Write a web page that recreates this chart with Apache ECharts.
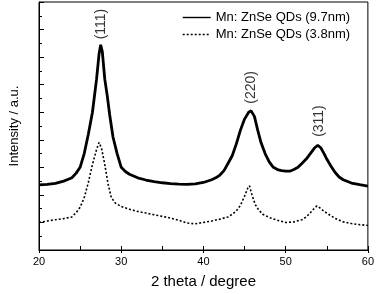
<!DOCTYPE html>
<html>
<head>
<meta charset="utf-8">
<script src="https://cdn.jsdelivr.net/npm/echarts@6/dist/echarts.min.js"></script>
<style>
html,body{margin:0;padding:0;background:#fff;}
#c{width:377px;height:294px;}
</style>
</head>
<body>
<div id="c"></div>
<script>
// 2theta (degree) and intensity (a.u.)
var thetaLarge = [20,21,22,23,23.5,24,24.5,25,25.5,26,26.5,27,27.3,27.5,27.7,28,28.3,28.6,29,29.5,30,30.5,31,32,33,34,35,36,37,38,39,40,41,41.5,42,42.5,43,43.5,44,44.5,45,45.5,45.8,46.2,46.6,47,47.5,48,48.5,49,49.5,50,50.5,51,51.5,52,52.5,53,53.5,53.9,54.3,54.7,55,55.5,56,56.5,57,58,59,60];
var intensityLarge = [2.36,2.38,2.42,2.5,2.56,2.62,2.78,3.0,3.5,4.2,5.0,6.2,7.1,7.45,7.2,6.2,5.6,4.9,4.1,3.5,3.0,2.85,2.75,2.62,2.54,2.48,2.44,2.41,2.39,2.38,2.4,2.45,2.55,2.62,2.72,2.88,3.15,3.42,3.85,4.35,4.75,5.0,5.05,4.85,4.35,3.9,3.5,3.2,3.0,2.92,2.88,2.86,2.86,2.92,3.0,3.15,3.3,3.5,3.7,3.8,3.7,3.48,3.3,3.05,2.82,2.65,2.55,2.43,2.37,2.32];
var thetaSmall = [20,21,22,23,24,24.5,25,25.5,26,26.5,27,27.3,27.6,28,28.4,28.8,29.3,30,31,32,33,34,35,36,37,38,39,40,41,42,43,43.5,44,44.5,45,45.4,45.6,45.9,46.3,46.7,47.2,48,49,50,51,52,52.5,53,53.5,53.8,54.2,54.7,55.2,56,57,58,59,60];
var intensitySmall = [1.0,1.05,1.1,1.14,1.2,1.35,1.55,1.9,2.45,3.1,3.65,3.9,3.7,3.1,2.4,1.9,1.7,1.58,1.48,1.4,1.34,1.28,1.22,1.16,1.08,0.98,0.95,1.0,1.05,1.12,1.2,1.3,1.42,1.62,1.95,2.25,2.33,2.0,1.65,1.46,1.3,1.18,1.08,1.0,1.02,1.1,1.2,1.35,1.52,1.6,1.52,1.4,1.3,1.15,1.02,0.96,0.92,0.89];
var seriesNames = ['Mn: ZnSe QDs (9.7nm)', 'Mn: ZnSe QDs (3.8nm)'];
var peakLabels = ['(111)', '(220)', '(311)'];
var peakX = [27.5, 45.76, 54.07];
var peakY = [8.2, 5.9, 4.68];
var xTicks = [20, 30, 40, 50, 60];

function pairs(xs, ys){ var out=[]; for(var i=0;i<xs.length;i++){ out.push([xs[i], ys[i]]); } return out; }
var peakData = peakX.map(function(x,i){ return {value:[x, peakY[i]], name: peakLabels[i]}; });

var font = 'Liberation Sans, Arial, sans-serif';
var chart = echarts.init(document.getElementById('c'), null, {renderer:'canvas'});
chart.setOption({
  animation:false,
  backgroundColor:'#fff',
  grid:{left:33,right:7,top:2,bottom:41,show:true,borderColor:'#000',borderWidth:1,backgroundColor:'transparent'},
  legend:{
    orient:'vertical', left:182, top:11, itemWidth:28, itemHeight:14, itemGap:4, padding:0,
    itemStyle:{opacity:0, borderWidth:0},
    lineStyle:{width:1.4},
    textStyle:{fontFamily:font,fontSize:13,color:'#000'},
    data:[{name:seriesNames[0]},{name:seriesNames[1]}]
  },
  xAxis:[{
    type:'value', min:xTicks[0], max:xTicks[xTicks.length-1], interval:10,
    name:'2 theta / degree', nameLocation:'middle', nameGap:24,
    nameTextStyle:{fontFamily:font,fontSize:15,color:'#000'},
    axisLine:{lineStyle:{color:'#000',width:1}},
    axisTick:{show:true,inside:false,length:3,lineStyle:{color:'#000'}},
    axisLabel:{fontFamily:font,fontSize:11,color:'#000',margin:6},
    splitLine:{show:false}
  },{
    type:'value', min:20, max:60, interval:5, position:'bottom',
    axisLine:{show:false},
    axisTick:{show:true,inside:true,length:4,lineStyle:{color:'#000'}},
    axisLabel:{show:false}, splitLine:{show:false}
  }],
  yAxis:{
    type:'value', min:0, max:9, interval:1,
    name:'Intensity / a.u.', nameLocation:'middle', nameGap:18,
    nameTextStyle:{fontFamily:font,fontSize:13,color:'#000'},
    axisLine:{show:true,lineStyle:{color:'#000',width:1}},
    axisTick:{show:true,inside:true,length:5,lineStyle:{color:'#000'}},
    minorTick:{show:true,splitNumber:2,length:3,lineStyle:{color:'#000'}},
    axisLabel:{show:false}, splitLine:{show:false}, minorSplitLine:{show:false}
  },
  series:[{
    name:seriesNames[0], type:'line', xAxisIndex:0, data:pairs(thetaLarge,intensityLarge),
    showSymbol:false, symbol:'none', lineStyle:{color:'#000',width:2.8}, itemStyle:{color:'#000'}
  },{
    name:seriesNames[1], type:'line', xAxisIndex:0, data:pairs(thetaSmall,intensitySmall),
    showSymbol:false, symbol:'none', lineStyle:{color:'#000',width:1.6,type:[2,2]}, itemStyle:{color:'#000'}
  },{
    type:'scatter', xAxisIndex:0, data:peakData, symbolSize:0, silent:true,
    label:{show:true, position:'inside', rotate:90, formatter:function(p){return p.name;},
      fontFamily:font, fontSize:14, color:'#000'}
  }]
});
</script>
</body>
</html>
